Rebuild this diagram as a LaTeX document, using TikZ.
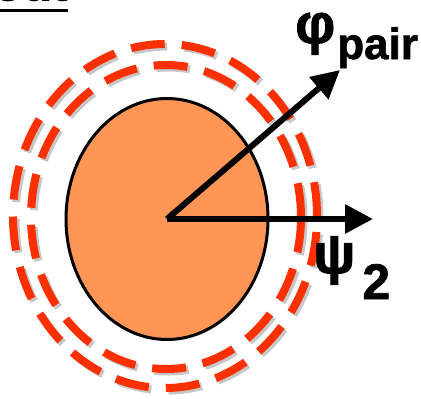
\documentclass[tikz,border=0pt]{standalone}
\usepackage{fontspec}
\setmainfont{Liberation Sans}[BoldFeatures={FakeBold=1.5}]
\usetikzlibrary{shapes.geometric, arrows.meta, positioning}
\definecolor{bodyorange}{RGB}{255,150,85}
\definecolor{ringred}{RGB}{255,48,0}
\tikzstyle{ring}=[ellipse,draw=ringred,line width=8pt,dash pattern=on 34pt off 17pt,inner sep=0pt]
\tikzstyle{ringshade}=[ring,draw=black,opacity=0.22]
\tikzstyle{body}=[ellipse,draw,line width=3pt,fill=bodyorange,inner sep=0pt,minimum width=202pt,minimum height=241pt]
\tikzstyle{vec}=[-{Triangle[length=28pt,width=28pt]},line width=6pt]
\tikzstyle{lbl}=[font=\bfseries\fontsize{56}{56}\selectfont,inner sep=0pt,anchor=base west]
\newcommand{\lblsub}[3]{\raisebox{-#1}{\fontsize{#2}{#2}\selectfont #3}}

\begin{document}
\begin{tikzpicture}[x=1pt,y=-1pt]
  \useasboundingbox (0,0) rectangle (421,399);
  \node[font=\bfseries\fontsize{48}{48}\selectfont,inner sep=0pt,anchor=base east] (out) at (68,0.5) {out};
  \draw[line width=3pt] ([yshift=-10pt]out.base west) -- ([yshift=-10pt]out.base east);
  \node[ringshade,minimum width=304pt,minimum height=344pt] at (167.5,218.5) {};
  \node[ringshade,minimum width=270pt,minimum height=304pt] at (168.5,219.5) {};
  \node[ring,minimum width=304pt,minimum height=344pt] (outer) at (165,216) {};
  \node[ring,minimum width=270pt,minimum height=304pt] (inner) at (166,217) {};
  \node[body] (nucleus) at (167,219) {};
  \coordinate (c) at (167,219);
  \coordinate (phitip) at (340,70);
  \coordinate (psitip) at (373,219);
  \draw[vec] (c) -- (phitip);
  \draw[vec] (c) -- (psitip);
  \node[lbl] (phi) at (295,43) {φ\hspace{2pt}\lblsub{16pt}{44}{pair}};
  \node[lbl] (psi) at (313,273) {ψ\hspace{7pt}\lblsub{26pt}{50}{2}};
\end{tikzpicture}
\end{document}
